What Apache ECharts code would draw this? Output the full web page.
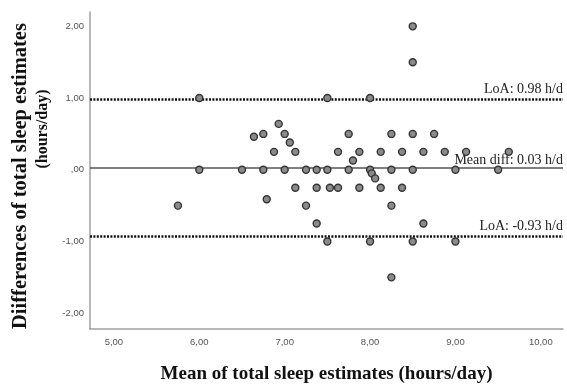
<!DOCTYPE html>
<html>
<head>
<meta charset="utf-8">
<script src="https://cdn.jsdelivr.net/npm/echarts@6/dist/echarts.min.js"></script>
<style>html,body{margin:0;padding:0;background:#fff}#c{width:567px;height:384px}</style>
</head>
<body>
<div id="c"></div>
<script>
// Mean of the two estimates (x) and their difference (y), hours/day
const meanVals = [
  6.875, 7.125, 7.625, 7.875, 8.125, 8.375, 8.625, 8.875, 9.125, 9.625,
  6.75, 7.0, 7.75, 8.25, 8.5, 8.75,
  6.64, 6.93, 7.06, 7.8,
  6.0, 7.5, 8.0, 8.5, 8.5,
  6.0, 6.5, 6.75, 7.0, 7.25, 7.375, 7.5, 7.75, 8.0, 8.25, 8.5, 9.0, 9.5,
  8.02, 8.06,
  7.125, 7.375, 7.53, 7.625, 7.875, 8.125, 8.375,
  5.75, 7.25, 8.25, 6.79,
  7.375, 8.625,
  7.5, 8.0, 8.5, 9.0,
  8.25
];
const diffVals = [
  0.25, 0.25, 0.25, 0.25, 0.25, 0.25, 0.25, 0.25, 0.25, 0.25,
  0.5, 0.5, 0.5, 0.5, 0.5, 0.5,
  0.46, 0.64, 0.38, 0.13,
  1.0, 1.0, 1.0, 1.5, 2.0,
  0, 0, 0, 0, 0, 0, 0, 0, 0, 0, 0, 0, 0,
  -0.05, -0.12,
  -0.25, -0.25, -0.25, -0.25, -0.25, -0.25, -0.25,
  -0.5, -0.5, -0.5, -0.41,
  -0.75, -0.75,
  -1.0, -1.0, -1.0, -1.0,
  -1.5
];
const loaUpper = 0.98;
const meanDiff = 0.03;
const loaLower = -0.93;
const xTicks = [5, 6, 7, 8, 9, 10];
const yTicks = [-2, -1, 0, 1, 2];
const lineLabels = ['LoA: 0.98 h/d', 'Mean diff: 0.03 h/d', 'LoA: -0.93 h/d'];
const yTitleLines = ['Diifferences of total sleep estimates', '(hours/day)'];
const xTitle = 'Mean of total sleep estimates (hours/day)';

function fmt(v) {
  if (Math.abs(v) < 1e-9) return ',00';
  return (v < 0 ? '-' : '') + Math.abs(v).toFixed(2).replace('.', ',');
}

const points = meanVals.map((m, i) => [m, diffVals[i]]);
const chart = echarts.init(document.getElementById('c'), null, {renderer: 'canvas'});
const tickFont = {color: '#555', fontSize: 9.5, fontFamily: 'Liberation Sans, Arial, sans-serif'};
const dotted = {color: '#111', width: 2.6, type: [2, 1.4], cap: 'butt'};
const annot = {fontFamily: 'Liberation Serif, Times New Roman, serif', fontSize: 14, color: '#222'};
const titleFont = '"Liberation Serif", "Times New Roman", serif';

chart.setOption({
  animation: false,
  backgroundColor: '#fff',
  grid: {left: 90, right: 4, top: 12, bottom: 55, containLabel: false, outerBoundsMode: 'none'},
  xAxis: {
    type: 'value', min: 4.72, max: 10.26,
    splitLine: {show: false},
    axisTick: {show: false},
    axisLine: {onZero: false, lineStyle: {color: '#a0a0a0', width: 1.5}},
    axisLabel: Object.assign({customValues: xTicks, formatter: fmt, margin: 8}, tickFont),
    name: xTitle,
    nameLocation: 'middle', nameGap: 36,
    nameTextStyle: {fontFamily: 'Liberation Serif, Times New Roman, serif', fontWeight: 'bold', fontSize: 19, color: '#111'}
  },
  yAxis: {
    type: 'value', min: -2.22, max: 2.2,
    splitLine: {show: false},
    axisTick: {show: false},
    axisLine: {show: true, onZero: false, lineStyle: {color: '#a0a0a0', width: 1.5}},
    axisLabel: Object.assign({customValues: yTicks, formatter: fmt, margin: 6}, tickFont)
  },
  graphic: [
    {type: 'text', x: 21, y: 176, rotation: Math.PI / 2,
     style: {text: yTitleLines[0], align: 'center', verticalAlign: 'middle',
             font: 'bold 20.5px ' + titleFont, fill: '#111'}},
    {type: 'text', x: 43, y: 129, rotation: Math.PI / 2,
     style: {text: yTitleLines[1], align: 'center', verticalAlign: 'middle',
             font: 'bold 16px ' + titleFont, fill: '#111'}}
  ],
  series: [{
    type: 'scatter',
    data: points,
    symbolSize: 7,
    itemStyle: {color: '#8a8a8a', borderColor: '#333', borderWidth: 1.4, opacity: 1},
    z: 5,
    markLine: {
      silent: true,
      symbol: 'none',
      z: 3,
      data: [
        {yAxis: loaUpper, lineStyle: dotted, label: Object.assign({formatter: lineLabels[0]}, annot)},
        {yAxis: meanDiff, lineStyle: {color: '#555', width: 1.5, type: 'solid'}, label: Object.assign({formatter: lineLabels[1], distance: [0, 0]}, annot)},
        {yAxis: loaLower, lineStyle: dotted, label: Object.assign({formatter: lineLabels[2]}, annot)}
      ],
      label: {show: true, position: 'insideEndTop', distance: [0, 3]}
    }
  }]
});
</script>
</body>
</html>
